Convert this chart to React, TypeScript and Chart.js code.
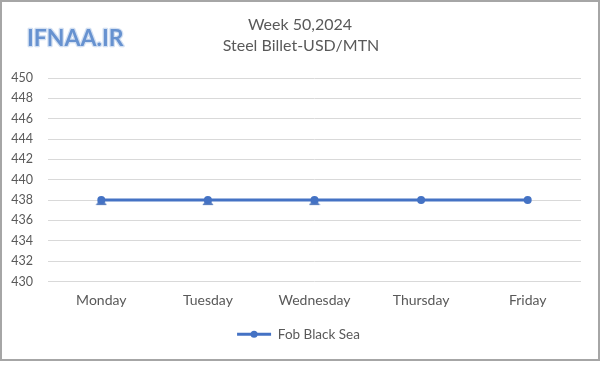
import React, { useEffect, useRef } from "react";
import { Chart, registerables } from "chart.js";

Chart.register(...registerables);

const categories = ["Monday", "Tuesday", "Wednesday", "Thursday", "Friday"];
const fobBlackSea = [438, 438, 438, 438, 438];
const underMarkers = [438, 438, 438, null, null];
const titleLines = ["Week 50,2024", "Steel Billet-USD/MTN"];
const logoText = "IFNAA.IR";
const seriesLabel = "Fob Black Sea";

const FONT = "Lato, 'Open Sans', sans-serif";
const TEXT = "#595959";
const BLUE = "#4472C4";

function makeTriangle(): HTMLCanvasElement {
  const c = document.createElement("canvas");
  c.width = 12;
  c.height = 12;
  const g = c.getContext("2d")!;
  g.fillStyle = "#5a7fbf";
  g.beginPath();
  g.moveTo(0.5, 11);
  g.lineTo(11.5, 11);
  g.lineTo(6, 3);
  g.closePath();
  g.fill();
  return c;
}

export default function App() {
  const ref = useRef<HTMLCanvasElement | null>(null);

  useEffect(() => {
    document.body.style.margin = "0";
    const canvas = ref.current;
    if (!canvas) return;
    const tri = makeTriangle();

    const legendShift = {
      id: "legendShift",
      afterLayout(chart: any) {
        const lg = chart.legend;
        if (!lg) return;
        const dx = 8;
        lg.left += dx;
        lg.right += dx;
        (lg.legendHitBoxes || []).forEach((h: any) => {
          h.left += dx;
        });
      },
    };

    const decor = {
      id: "decor",
      afterDraw(chart: any) {
        const ctx = chart.ctx;
        ctx.save();
        ctx.fillStyle = TEXT;
        ctx.textAlign = "center";
        ctx.textBaseline = "middle";
        ctx.font = `16px ${FONT}`;
        ctx.fillText(titleLines[0], 300, 25);
        ctx.fillText(titleLines[1], 301, 46);
        // logo
        ctx.font = `bold 23px ${FONT}`;
        ctx.textAlign = "left";
        ctx.lineWidth = 2.5;
        ctx.lineJoin = "round";
        ctx.strokeStyle = "#d3e0f2";
        ctx.strokeText(logoText, 27, 39);
        ctx.fillStyle = "#6792d0";
        ctx.fillText(logoText, 27, 39);
        // legend dot
        const boxes = chart.legend?.legendHitBoxes;
        if (boxes && boxes.length) {
          const b = boxes[0];
          const bw = chart.legend.options.labels.boxWidth;
          ctx.fillStyle = BLUE;
          ctx.beginPath();
          ctx.arc(b.left + bw / 2, b.top + b.height / 2, 3.5, 0, Math.PI * 2);
          ctx.fill();
        }
        ctx.restore();
      },
    };

    const chart = new Chart(canvas, {
      type: "line",
      data: {
        labels: categories,
        datasets: [
          {
            label: seriesLabel,
            data: fobBlackSea,
            borderColor: BLUE,
            backgroundColor: BLUE,
            borderWidth: 3,
            pointRadius: 4,
            pointStyle: "circle",
            pointBorderWidth: 0,
            order: 1,
          },
          {
            label: "_under",
            data: underMarkers,
            showLine: false,
            borderColor: BLUE,
            backgroundColor: BLUE,
            pointStyle: tri as any,
            pointRadius: 6,
            pointBorderWidth: 0,
            order: 2,
          },
        ],
      },
      options: {
        animation: false,
        responsive: false,
        maintainAspectRatio: false,
        layout: { padding: { top: 78, left: 0, right: 19, bottom: 23 } },
        plugins: {
          title: { display: false },
          tooltip: { enabled: false },
          legend: {
            display: true,
            position: "bottom",
            labels: {
              boxWidth: 34,
              boxHeight: 3,
              color: TEXT,
              font: { family: FONT, size: 13.5 },
              padding: 10,
              generateLabels: () => [
                {
                  text: seriesLabel,
                  fillStyle: BLUE,
                  strokeStyle: BLUE,
                  lineWidth: 0,
                  datasetIndex: 0,
                  fontColor: TEXT,
                },
              ],
            },
          },
        },
        scales: {
          x: {
            offset: true,
            grid: { display: false, drawTicks: false },
            border: { display: false },
            ticks: {
              color: TEXT,
              font: { family: FONT, size: 14 },
              padding: 11,
              maxRotation: 0,
            },
            afterFit: (s: any) => {
              s.height = 36;
            },
          },
          y: {
            min: 430,
            max: 450,
            grid: { color: "#d9d9d9", lineWidth: 1, drawTicks: false },
            border: { display: false },
            ticks: {
              stepSize: 2,
              color: TEXT,
              font: { family: FONT, size: 12.5 },
              padding: 15,
            },
            afterFit: (s: any) => {
              s.width = 48;
            },
          },
        },
      },
      plugins: [legendShift, decor],
    });

    return () => chart.destroy();
  }, []);

  return (
    <div style={{ position: "fixed", left: 0, top: 0, width: 600, height: 374, background: "#fff" }}>
      <canvas ref={ref} width={600} height={374} style={{ position: "absolute", left: 0, top: 0 }} />
      <div
        style={{
          position: "absolute",
          left: 0,
          top: 0,
          width: 600,
          height: 361,
          boxSizing: "border-box",
          border: "2px solid #a6a6a6",
          pointerEvents: "none",
        }}
      />
    </div>
  );
}
